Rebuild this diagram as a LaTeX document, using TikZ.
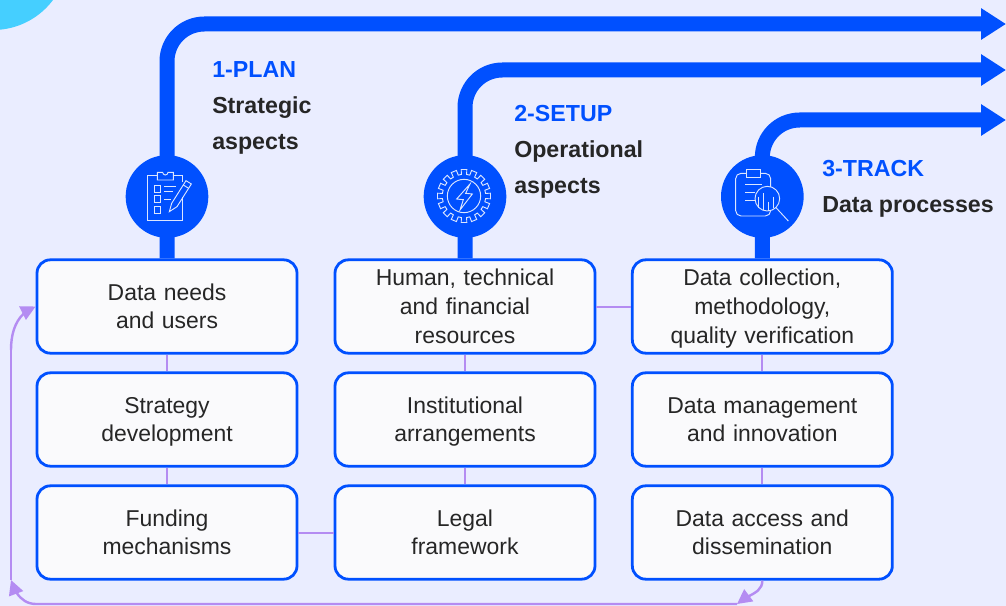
\documentclass[tikz,border=0pt]{standalone}
\usepackage{fontspec}
\setmainfont{Liberation Sans}
\usetikzlibrary{shapes,arrows.meta,bending}
\usetikzlibrary{positioning}

\definecolor{pagebg}{HTML}{EAEDFF}
\definecolor{flowblue}{HTML}{0050FF}
\definecolor{loopviolet}{HTML}{B48CF2}
\definecolor{cornercyan}{HTML}{45CFFF}
\definecolor{boxfill}{HTML}{FAFAFC}
\definecolor{inktext}{HTML}{262626}
\definecolor{iconwhite}{HTML}{DCE6FF}

\tikzset{
    databox/.style={draw=flowblue, line width=2.1pt, fill=boxfill, rounded corners=10pt,
        minimum width=195pt, minimum height=70pt, inner sep=0pt, align=center, text width=190pt,
        text=inktext, font=\fontsize{17.2}{21.4}\selectfont,
        execute at begin node=\rule{0pt}{16pt}, execute at end node=\rule[-4pt]{0pt}{4pt}},
    headtext/.style={anchor=north west, inner sep=0pt, align=left, text=inktext,
        font=\fontsize{17.4}{27}\selectfont\bfseries},
    iconcircle/.style={circle, fill=flowblue, minimum size=62pt, inner sep=0pt},
    flowline/.style={draw=flowblue, line width=11.25pt, rounded corners=28pt,
        -{Triangle[length=18.75pt,width=22.5pt]}},
    linkline/.style={draw=loopviolet, line width=1.5pt},
    loopline/.style={draw=loopviolet, line width=1.8pt,
        -{Triangle[length=11pt,width=11pt,flex=.6]}},
    iconline/.style={draw=iconwhite, line width=.7pt},
}

\begin{document}
\begin{tikzpicture}[x=.75pt,y=-.75pt,on grid]
    \useasboundingbox (0,0) rectangle (1006,606);
    \fill[pagebg] (0,0) rectangle (1006,606);
    \begin{scope}
        \clip (0,0) rectangle (1006,606);
        \fill[cornercyan] (-7,-45) circle (75);
    \end{scope}

    % boxes
    \node[databox] (needs) at (167,306.5) {Data needs\\and users};
    \node[databox, below=84.75pt of needs] (strategy) {Strategy\\development};
    \node[databox, below=84.75pt of strategy] (funding) {Funding\\mechanisms};
    \node[databox, right=223.5pt of needs] (resources) {Human, technical\\and financial\\resources};
    \node[databox, below=84.75pt of resources] (arrangements) {Institutional\\arrangements};
    \node[databox, below=84.75pt of arrangements] (legal) {Legal\\framework};
    \node[databox, right=223pt of resources] (collection) {Data collection,\\methodology,\\quality verification};
    \node[databox, below=84.75pt of collection] (management) {Data management\\and innovation};
    \node[databox, below=84.75pt of management] (access) {Data access and\\dissemination};

    % links
    \draw[linkline] (needs) -- (strategy);
    \draw[linkline] (strategy) -- (funding);
    \draw[linkline] (resources) -- (arrangements);
    \draw[linkline] (arrangements) -- (legal);
    \draw[linkline] (collection) -- (management);
    \draw[linkline] (management) -- (access);
    \draw[linkline] (funding) -- (legal);
    \draw[linkline] (resources) -- (collection);

    % feedback loop
    \coordinate (loopright) at (737,604);
    \coordinate (loopleft) at (36,604);
    \coordinate (leftlow) at (11,580);
    \coordinate (lefthigh) at (11,350);
    \draw[loopline] (access.south) to[out=-90,in=45] (loopright);
    \draw[loopline] (loopright) -- (loopleft) to[out=180,in=-74] (leftlow);
    \draw[linkline] (leftlow) -- (lefthigh);
    \draw[loopline] (lefthigh) to[out=90,in=200] (needs.west);

    % flows
    \node[iconcircle, above=82.5pt of needs] (plan) {};
    \node[iconcircle, above=82.5pt of resources] (setup) {};
    \node[iconcircle, above=82.5pt of collection] (track) {};
    \coordinate (planend) at (1006,24);
    \coordinate (setupend) at (1006,70);
    \coordinate (trackend) at (1006,120);
    \draw[flowline] (needs.north) |- (planend);
    \draw[flowline] (resources.north) |- (setupend);
    \draw[flowline] (collection.north) |- (trackend);

    \node[headtext] (plantext) at (212,61) {\textcolor{flowblue}{1-PLAN}\\Strategic\\aspects};
    \node[headtext] (setuptext) at (514,105) {\textcolor{flowblue}{2-SETUP}\\Operational\\aspects};
    \node[headtext] (tracktext) at (822,160) {\textcolor{flowblue}{3-TRACK}\\Data processes};

    % clipboard
    \begin{scope}[shift={(100,140)},x=.25pt,y=-.25pt]
        \draw[iconline] (172,105) -- (143,105) -- (143,240) -- (248,240) -- (248,172);
        \draw[iconline] (220,105) -- (248,105) -- (248,125);
        \draw[iconline] (172,120) -- (172,97) -- (188,97) arc (180:0:8) -- (220,97) -- (220,120) -- cycle;
        \foreach \y in {137,167,200}
            \draw[iconline] (163,\y) rectangle (182,\y+19);
        \draw[iconline] (192,140) -- (228,140);
        \draw[iconline] (192,153) -- (220,153);
        \draw[iconline] (192,178) -- (212,178);
        \draw[iconline] (208,215) -- (215,190) -- (258,122) -- (274,132) -- (231,200) -- cycle;
        \draw[iconline] (250,135) -- (266,145);
    \end{scope}

    % gear
    \begin{scope}[shift={(464,196)},x=.25pt,y=-.25pt]
        \draw[iconline] (-7:65) \foreach \a in {0,22.5,...,337.5}{
            -- (\a-7:65) -- (\a-6:80) -- (\a+6:80) -- (\a+7:65)} -- cycle;
        \draw[iconline] (0,0) circle (50);
        \draw[iconline] (18,-36) -- (-22,9) -- (-2,11) -- (-12,42) -- (25,-6) -- (5,-8) -- cycle;
    \end{scope}

    % report and magnifier
    \begin{scope}[shift={(700,140)},x=.25pt,y=-.25pt]
        \draw[iconline, rounded corners=4pt] (107,100) rectangle (212,228);
        \draw[iconline, fill=flowblue] (138,88) rectangle (180,112);
        \draw[iconline] (135,133) -- (185,133);
        \draw[iconline] (135,157) -- (165,157);
        \draw[iconline] (135,182) -- (165,182);
        \draw[iconline, fill=flowblue] (202,176) circle (37);
        \draw[iconline] (228,203) -- (265,243);
        \draw[iconline] (175,170) -- (175,205);
        \draw[iconline] (190,160) -- (190,210);
        \draw[iconline] (205,185) -- (205,212);
        \draw[iconline] (220,170) -- (220,205);
    \end{scope}
\end{tikzpicture}
\end{document}
